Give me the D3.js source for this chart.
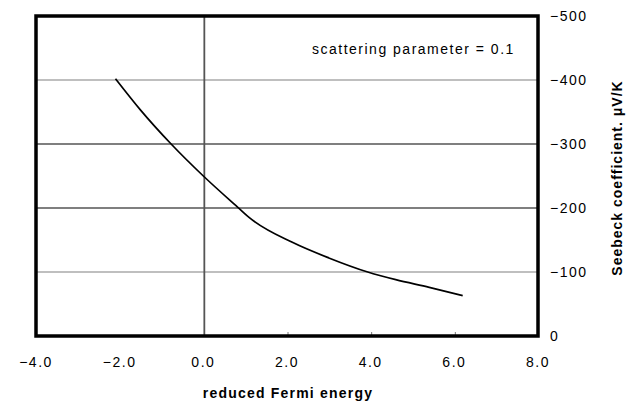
<!DOCTYPE html>
<html lang="en">
<head>
<meta charset="utf-8">
<title>Seebeck coefficient vs reduced Fermi energy</title>
<script src="https://cdn.jsdelivr.net/npm/d3@7"></script>
<style>
  body { margin: 0; background: #fff; }
  text { font-family: "Liberation Sans", Arial, sans-serif; }
</style>
</head>
<body>
<script>
// data
var fermi   = [-2.1, -1.5, -0.77, 0, 0.86, 1.1, 2.14, 3.0, 3.93, 4.6, 5.4, 6.2];
var seebeck = [-402, -353, -300, -250, -199, -185, -146, -122, -100, -88, -76, -63];
var xTicks = [-4, -2, 0, 2, 4, 6, 8];
var yTicks = [0, -100, -200, -300, -400, -500];
var gridColors = {"-100": "#aaa", "-200": "#555", "-300": "#555", "-400": "#aaa"};

var w = 633, h = 402;
var svg = d3.select("body").append("svg")
    .attr("width", w)
    .attr("height", h);

var x = d3.scaleLinear().domain([-4, 8]).range([36, 538]);
var y = d3.scaleLinear().domain([0, -500]).range([336, 16]);

// grid lines
svg.selectAll("line.grid")
  .data(yTicks.filter(function(d) { return d != 0 && d != -500; }))
  .enter().append("line")
    .attr("class", "grid")
    .attr("x1", x(-4)).attr("x2", x(8))
    .attr("y1", function(d) { return y(d); })
    .attr("y2", function(d) { return y(d); })
    .attr("stroke", function(d) { return gridColors[d]; })
    .attr("stroke-width", 1.3);

// zero line
svg.append("line")
    .attr("x1", x(0) + 1).attr("x2", x(0) + 1)
    .attr("y1", y(-500)).attr("y2", y(0))
    .attr("stroke", "#555")
    .attr("stroke-width", 1.8);

// small ticks on the bottom, inside
svg.selectAll("line.tick")
  .data([2, 4, 6])
  .enter().append("line")
    .attr("x1", function(d) { return x(d) + 1; })
    .attr("x2", function(d) { return x(d) + 1; })
    .attr("y1", y(0)).attr("y2", y(0) - 4)
    .attr("stroke", "#777");

// curve
var pts = fermi.map(function(f, i) { return [f, seebeck[i]]; });
svg.append("path")
    .datum(pts)
    .attr("fill", "none")
    .attr("stroke", "#000")
    .attr("stroke-width", 1.7)
    .attr("d", d3.line()
        .x(function(d) { return x(d[0]); })
        .y(function(d) { return y(d[1]); })
        .curve(d3.curveMonotoneX));

// frame
svg.append("rect")
    .attr("x", x(-4)).attr("y", y(-500))
    .attr("width", x(8) - x(-4))
    .attr("height", y(0) - y(-500))
    .attr("fill", "none")
    .attr("stroke", "#000")
    .attr("stroke-width", 3.5);

// x labels
svg.selectAll("text.xl")
  .data(xTicks)
  .enter().append("text")
    .attr("class", "xl")
    .attr("x", function(d) { return x(d); })
    .attr("y", 367)
    .attr("text-anchor", "middle")
    .attr("font-size", "14px")
    .attr("letter-spacing", "1.5px")
    .text(function(d) { return d3.format(".1f")(d); });

// y labels on the right
svg.selectAll("text.yl")
  .data(yTicks)
  .enter().append("text")
    .attr("class", "yl")
    .attr("x", 550)
    .attr("y", function(d) { return y(d) + 5; })
    .attr("font-size", "14px")
    .attr("letter-spacing", "1.5px")
    .text(function(d) { return d == 0 ? "0" : "\u2212" + (-d); });

svg.append("text")
    .attr("x", 312).attr("y", 54)
    .attr("font-size", "14px")
    .attr("letter-spacing", "1.5px")
    .text("scattering parameter = 0.1");

svg.append("text")
    .attr("x", 288).attr("y", 398)
    .attr("text-anchor", "middle")
    .attr("font-size", "14px")
    .attr("font-weight", "bold")
    .attr("letter-spacing", "1.2px")
    .text("reduced Fermi energy");

svg.append("text")
    .attr("transform", "translate(622,178) rotate(-90)")
    .attr("text-anchor", "middle")
    .attr("font-size", "14px")
    .attr("font-weight", "bold")
    .attr("letter-spacing", "1px")
    .text("Seebeck coefficient. \u03bcV/K");
</script>
</body>
</html>
